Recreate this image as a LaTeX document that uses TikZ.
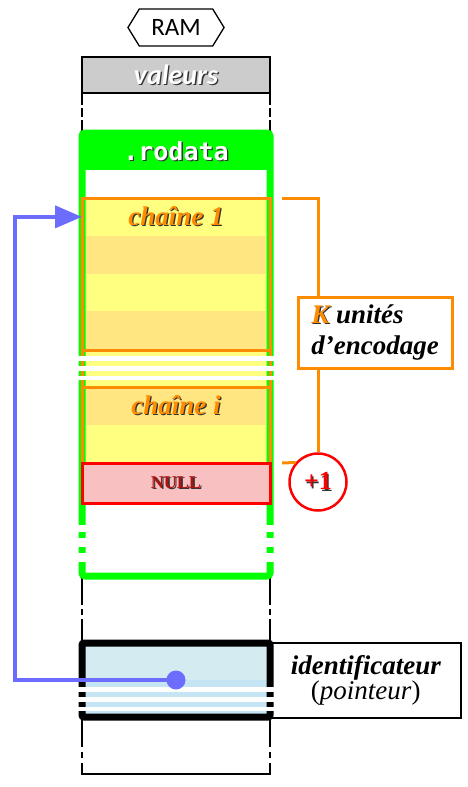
\documentclass[tikz,border=0pt]{standalone}
\usepackage{fontspec}
\setmainfont{Liberation Serif}
\setsansfont{Carlito}
\setmonofont{DejaVu Sans Mono}
\usetikzlibrary{arrows.meta,shapes.symbols}
\definecolor{vert}{RGB}{0,255,0}
\definecolor{orangeK}{RGB}{255,140,0}
\definecolor{jauneA}{RGB}{255,255,128}
\definecolor{jauneB}{RGB}{255,230,128}
\definecolor{rose}{RGB}{248,192,192}
\definecolor{rouge}{RGB}{255,0,0}
\definecolor{rougefonce}{RGB}{175,20,20}
\definecolor{bleu}{RGB}{108,108,255}
\definecolor{bleuA}{RGB}{213,235,242}
\definecolor{bleuB}{RGB}{197,229,245}
\definecolor{gris}{RGB}{204,204,204}
\newcommand{\ombre}[2]{\rlap{\kern1.3pt\raisebox{-1.3pt}{\color{black!80}#2}}{\color{#1}#2}}
\begin{document}
\begin{tikzpicture}[x=1pt, y=-1pt,
 cellule/.style={minimum width=188, minimum height=37.75, inner sep=0, outer sep=0, anchor=north},
 coupure/.style={fill=white},
 gros/.style={font=\bfseries\itshape\fontsize{27}{31}\selectfont}]
 \useasboundingbox (0,0) rectangle (468,787);
 % colonne de la RAM
 \draw[line width=1.3] (82,93) -- (82,774) -- (270,774) -- (270,93);
 \node[signal, signal to=west and east, signal pointer angle=117, draw, line width=1.3,
 minimum height=37, inner xsep=12, inner ysep=0] (ram) at (176,27.5) {\sffamily\fontsize{25}{25}\selectfont RAM};
 \node[draw, line width=1.3, fill=gris, minimum width=188, minimum height=36, inner sep=0] (val) at (176,75)
 {\sffamily\bfseries\itshape\fontsize{28}{28}\selectfont\ombre{white}{valeurs}};
 % segment .rodata
 \fill[vert] (82,133) rectangle (270,170);
 \node (rod) at (176,152) {\ttfamily\bfseries\fontsize{25}{25}\selectfont\ombre{white}{.rodata}};
 \foreach \y/\c [count=\i] in {198/jauneA,235.75/jauneB,273.5/jauneA,311.25/jauneB}
 \node[cellule, fill=\c] (c\i) at (176,\y) {};
 \node[gros] (t1) at (c1) {\ombre{orangeK}{chaîne 1}};
 \fill[jauneA] (82,349) rectangle (270,387);
 \node[cellule, fill=jauneB] (ci) at (176,387) {};
 \node[cellule, fill=jauneA] (cj) at (176,424.75) {};
 \node[gros] (ti) at (ci) {\ombre{orangeK}{chaîne i}};
 \draw[vert, line width=7, rounded corners=3] (82,133) rectangle (270,576);
 \draw[orangeK, line width=3] (82,198) rectangle (270,350);
 \draw[orangeK, line width=3] (82,387) rectangle (270,503);
 \draw[orangeK, line width=3] (82,350) -- (82,387) (270,350) -- (270,387);
 \node[draw=rouge, line width=3, fill=rose, minimum width=188, minimum height=40, inner sep=0] (nul) at (176,483)
 {\bfseries\fontsize{18}{18}\selectfont\ombre{rougefonce}{NULL}};
 % identificateur
 \node[draw, line width=1.5, minimum width=190, minimum height=75, anchor=west, align=center, inner sep=0] (lib) at (270,680.5)
 {{\bfseries\itshape\fontsize{27}{31}\selectfont identificateur}\\
 {\fontsize{27}{31}\selectfont(\textit{pointeur})}};
 \fill[bleuA] (82,643) rectangle (270,680);
 \fill[bleuB] (82,680) rectangle (270,717);
 \draw[line width=7, rounded corners=2] (82,643) rectangle (270,717);
 % coupures
 \foreach \ya/\yb in {105/108,117/119.5,356/361,366/371,375.5/380,525/532,538/547,553/562,
 605/609,615/619,687/692,697/702,707/711,747/752,758/763}
 \fill[coupure] (74,\ya) rectangle (278,\yb);
 % pointeur
 \node[circle, fill=bleu, minimum size=19, inner sep=0] (ptr) at (176,680) {};
 \coordinate (coude) at (15,680);
 \draw[bleu, line width=4, -{Triangle[length=27pt, width=22pt]}] (ptr.center) -- (coude) |- (c1.west);
 % K unites
 \node[draw=orangeK, line width=3, fill=white, minimum width=154, minimum height=71, align=left, gros] (kbox) at (375,332.5)
 {\ombre{orangeK}{K} unités\\d’encodage};
 \node[circle, draw=rouge, line width=2.5, minimum size=57, inner sep=0] (plus) at (318,482)
 {\bfseries\fontsize{26}{26}\selectfont\ombre{rouge}{+1}};
 \coordinate (k1) at (282,198);
 \coordinate (k2) at (318,198);
 \coordinate (k3) at (282,463);
 \draw[orangeK, line width=3] (k1) -- (k2) -- (k2 |- kbox.north);
 \draw[orangeK, line width=3] (k2 |- kbox.south) -- (plus.north);
 \draw[orangeK, line width=3] (k3) -- (plus.139);
\end{tikzpicture}
\end{document}
